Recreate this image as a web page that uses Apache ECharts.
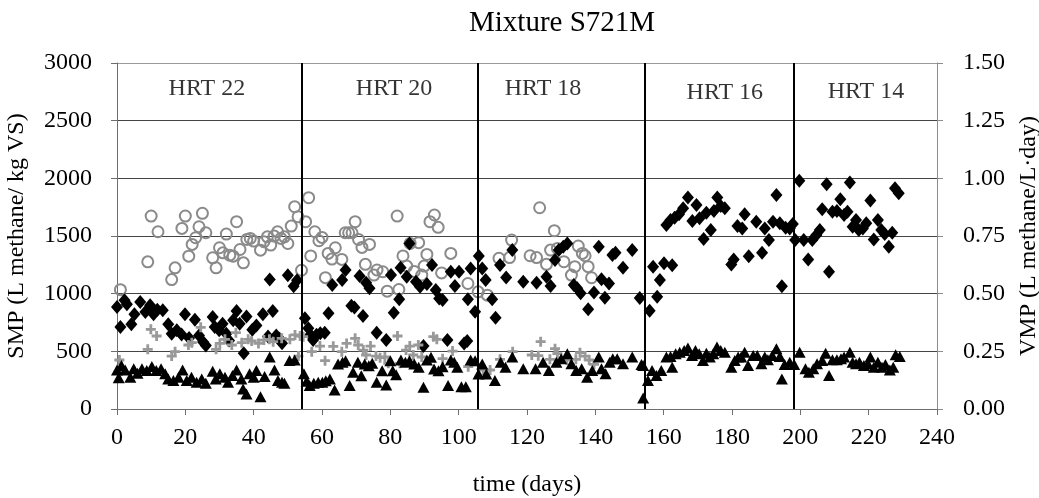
<!DOCTYPE html>
<html>
<head>
<meta charset="utf-8">
<script src="https://cdn.jsdelivr.net/npm/echarts@6/dist/echarts.min.js"></script>
<style>
html,body{margin:0;padding:0;background:#fff;}
#chart{width:1039px;height:498px;}
</style>
</head>
<body>
<div id="chart"></div>
<script>
// ---- data (left axis units: L methane / kg VS) ----
const xTicks = [0, 20, 40, 60, 80, 100, 120, 140, 160, 180, 200, 220, 240];
const leftTicks = [0, 500, 1000, 1500, 2000, 2500, 3000];
const rightTicks = [0.00, 0.25, 0.50, 0.75, 1.00, 1.25, 1.50];

const hrtBoundaries = [54, 105.5, 154.5, 198];
const hrtNames = ['HRT 22', 'HRT 20', 'HRT 18', 'HRT 16', 'HRT 14'];
const hrtLabelX = [26.3, 81.1, 124.7, 177.9, 219.2];
const hrtLabelY = [2774, 2774, 2774, 2740, 2748];

const diamondDays = [0,1.0,2.2,2.9,4.2,5.1,6.8,8.3,9.7,10.7,11.8,13.4,15.0,16.0,17.5,18.9,19.9,21.1,22.8,24.0,25.2,26.0,28.0,28.6,29.9,30.9,32.0,32.8,34.0,35.0,35.9,37.1,37.9,39.6,40.8,42.7,44.2,45.6,46.6,47.6,48.3,44.7,50.0,51.7,52.7,
55.0,56.0,56.6,57.4,58.4,59.5,60.8,61.9,63.0,65.9,66.9,68.6,69.5,71.0,72.0,72.9,73.9,76.0,78.8,80.2,81.0,82.6,83.0,84.8,85.6,87.5,88.7,89.7,90.7,92.2,93.3,94.3,95.3,96.7,97.7,98.9,100.1,101.6,102.5,102.7,103.5,104.8,
105.9,106.9,107.9,109.8,110.8,112.1,113.9,115.7,118.9,122.8,125.7,126.9,128.2,129.3,130.6,131.8,133.7,134.7,135.7,137.9,139.6,141,141.8,142.8,144,145,145.9,148.1,150.8,153,155.9,156.9,158.1,158.9,160.1,
160.8,162,162.5,163.2,164.5,165.7,167.1,168.4,169.6,170.5,171.7,172.5,173.8,174.7,175.7,176.7,177.9,179.8,180.5,181.6,183,183.7,184.9,187.1,188.8,189.6,190.8,192,193,194,194.6,195.7,196.9,
197.8,198.5,199.7,201,202.3,203.5,204.7,205.7,206.4,207.7,208.4,209.4,210.7,211.7,212.8,213.8,214.5,215.3,216.3,217.1,218.3,219.3,220.5,221.5,222.7,223.7,224.7,225.9,226.9,227.7,228.8];
const diamondVals = [885,711,943,908,734,821,928,841,899,821,861,856,734,653,682,647,821,615,774,638,580,551,798,711,682,740,653,595,769,850,740,484,803,687,725,821,629,850,638,609,571,1122,1160,1064,1117,
786,701,643,598,643,656,662,830,1075,1118,1205,896,879,1153,806,1095,1046,662,598,1162,835,951,1225,1147,1436,1104,1060,546,1083,1248,1031,959,945,598,1190,1066,1190,569,590,951,1219,843,
1326,1219,1118,951,792,1248,1141,1378,1104,1095,1147,1066,1292,1378,1407,1436,1075,1046,1003,864,1011,1407,1124,964,1089,1335,1355,1225,1378,962,852,1234,974,1118,1263,
1595,1639,1247,1659,1688,1740,1833,1630,1769,1653,1473,1702,1552,1717,1833,1760,1740,1253,1296,1586,1566,1688,1325,1624,1354,1566,1465,1624,1856,1610,1064,1572,1566,
1604,1465,1978,1465,1296,1465,1508,1552,1731,1949,1189,1711,1717,1818,1682,1711,1963,1580,1639,1552,1566,1610,1807,1470,1639,1552,1517,1407,1528,1914,1871];

const circleDays = [1,9,10,12,16,17,19,20,21,22,23,24,25,26,28,29,30,31,32,33,34,35,36,37,38,39,40,42,43,44,45,46,47,48,49,50,51,52,53,54,
55.2,56.1,56.7,57.9,59.1,60.0,61,61.8,62.9,63.9,65.8,66.8,67.8,68.8,69.7,70.7,71.7,72.7,73.9,75.2,76.1,77.8,79.1,82.0,82.5,83.7,84.8,85.8,87,88.3,89.2,89.9,90.7,91.6,92.9,94.0,95.0,97.7,102.7,105.7,108.4,
111.8,114.9,115.5,120.9,122.8,123.7,125.7,126.9,128,128.9,130.8,133,134,135,136.2,137,137.9,138.9];
const circleVals = [1035,1276,1673,1537,1122,1224,1566,1673,1325,1427,1485,1580,1697,1528,1311,1224,1398,1354,1517,1334,1325,1624,1383,1267,1470,1479,1456,1377,1450,1493,1421,1499,1537,1479,1493,1435,1586,1754,1667,1203,
1624,1832,1327,1537,1459,1488,1139,1349,1300,1398,1297,1528,1528,1528,1624,1470,1401,1254,1427,1161,1205,1190,1022,1673,1036,1327,1239,1436,1193,1442,1161,1239,1340,1624,1682,1575,1180,1349,1088,1016,987,
1307,1313,1465,1329,1313,1745,1254,1378,1546,1392,1277,1161,1234,1413,1349,1329,1234,1138];

const triangleDays = [0,0.5,1.3,2.4,3.9,4.9,6.0,7.3,8.7,10.2,11.5,12.9,14.1,15.0,16.5,18.0,19.2,20.4,21.8,23.3,24.8,26.0,28.0,28.9,30.1,31.6,32.5,33.8,35.0,36.4,36.9,37.9,38.8,40.0,40.8,42.0,43.2,44.7,46.1,47.1,48.3,49.0,50.5,52,
54.7,55.5,56.4,57.6,58.9,60.1,61.1,62.3,63.7,64.7,66.0,66.9,68.1,69.1,70.5,71.5,72.5,73.7,74.7,76.0,77.6,78.8,80.0,80.7,81.7,83.1,84.4,85.6,87.0,88.3,89.7,90.7,91.9,92.8,94.1,95.3,96.9,97.7,98.7,99.6,100.8,102.1,103.5,104.8,105.8,106.9,108.1,
110.6,112.3,113.7,115.7,118.9,122.5,124.7,126.4,128.6,130,131.8,133,134.4,136,137.6,139.1,141,141.8,143,144.2,145.1,146.4,148.1,150.8,153.5,
154,154,155.4,156.6,157.9,159.3,160.8,162,162.5,163.5,164.7,166,167.1,168.3,169.3,170.4,171.5,172.5,173.5,174.5,175.6,176.7,177.9,179.8,180.8,181.8,182.7,183.7,184.7,186.2,187.4,188.6,189.6,190.5,191.8,193,194,194.6,195.4,196.9,198.2,199.8,
201.5,202.5,203.8,204.9,206.4,207.4,208.4,209.4,210.7,211.9,212.8,214.5,215.3,216.3,217.3,218.6,219.8,220.5,221.5,222.7,223.9,224.9,226.2,227.2,227.9,229.1];
const triangleVals = [339,270,377,339,276,348,310,348,334,368,334,348,305,261,247,276,339,247,276,232,261,223,328,261,305,276,232,290,339,261,174,131,305,276,334,107,281,450,339,247,232,223,421,425,
305,240,203,223,232,232,246,260,165,390,405,419,203,318,405,289,390,376,396,231,332,208,419,332,298,425,405,419,390,361,188,425,448,347,332,367,203,425,405,361,194,194,425,419,303,390,303,
247,406,363,450,348,348,406,334,406,435,479,392,334,348,276,334,450,348,305,406,435,435,392,450,386,
377,96,247,334,290,334,450,455,363,479,493,508,528,464,508,479,421,484,450,479,537,508,493,363,421,450,450,493,377,464,464,392,450,426,464,522,455,261,386,406,386,493,
348,319,348,392,421,484,290,426,426,435,450,493,406,392,406,377,392,450,363,406,363,386,339,363,470,455];

const plusDays = [0.7,9.0,9.9,11.6,16.0,17.0,20.9,21.9,24.5,29,30.1,31.6,33.6,34.8,36.5,38.4,39.4,41.4,43.0,44.6,45.7,48.2,50.6,52.1,53.1,53.6,
54.5,57,59.4,60.9,63.3,65.8,67.2,69.7,70.6,72.1,72.9,74.2,75.8,77,78.4,79.4,82.1,82.8,84.6,85.7,86.7,88.2,89.2,92.6,93.6,95.3,98.2,102.8,
107.2,109.2,112.1,115.8,121.4,123.3,124,126.7,128.2,128.9,131.6,134.3,135.5,137,138.2,139.6];
const plusVals = [425,517,691,633,459,497,555,575,708,517,569,604,555,662,575,604,590,569,598,604,584,613,604,642,459,633,
627,497,546,419,543,497,569,613,555,511,468,546,459,445,451,396,633,396,511,546,468,555,451,627,604,436,502,367,
338,338,431,497,468,462,584,431,523,480,425,431,488,459,425,387];

// ---- chart ----
const zip = (xs, ys) => xs.map((x, i) => [x, ys[i]]);
const FONT = '"Liberation Serif", "Times New Roman", serif';
const FS = 24;
const plusPath = 'path://M3.6,0 L6.4,0 L6.4,3.6 L10,3.6 L10,6.4 L6.4,6.4 L6.4,10 L3.6,10 L3.6,6.4 L0,6.4 L0,3.6 L3.6,3.6 Z';

const chart = echarts.init(document.getElementById('chart'), null, {renderer: 'canvas'});
chart.setOption({
  animation: false,
  backgroundColor: '#fff',
  textStyle: {fontFamily: FONT},
  title: {
    text: 'Mixture S721M', left: 464, top: 4,
    textStyle: {fontFamily: FONT, fontSize: 29, fontWeight: 'normal', color: '#000'}
  },
  grid: {left: 117, right: 102, top: 63, bottom: 89, containLabel: false, outerBoundsMode: 'none'},
  xAxis: {
    type: 'value', min: xTicks[0], max: xTicks[xTicks.length - 1], interval: 20,
    name: 'time (days)', nameLocation: 'middle', nameGap: 64,
    nameTextStyle: {fontFamily: FONT, fontSize: FS, color: '#000'},
    axisLine: {lineStyle: {color: '#6e6e6e', width: 1}},
    axisTick: {show: true, inside: false, length: 6, lineStyle: {color: '#6e6e6e'}},
    axisLabel: {fontFamily: FONT, fontSize: FS, color: '#000', margin: 17},
    splitLine: {show: false}
  },
  yAxis: [{
    type: 'value', min: leftTicks[0], max: leftTicks[leftTicks.length - 1], interval: 500,
    name: 'SMP (L methane/ kg VS)', nameLocation: 'middle', nameGap: 88, nameRotate: 90,
    nameTextStyle: {fontFamily: FONT, fontSize: FS, color: '#000'},
    axisLine: {show: true, lineStyle: {color: '#6e6e6e', width: 1}},
    axisTick: {show: true, inside: false, length: 6, lineStyle: {color: '#6e6e6e'}},
    axisLabel: {fontFamily: FONT, fontSize: FS, color: '#000', margin: 25,
      formatter: v => String(v)},
    splitLine: {show: true, lineStyle: {color: ['#444','#444','#444','#444','#444','#444','#999'], width: 1}}
  }, {
    type: 'value', min: rightTicks[0], max: rightTicks[rightTicks.length - 1], interval: 0.25,
    position: 'right',
    name: 'VMP (L methane/L·day)', nameLocation: 'middle', nameGap: 80, nameRotate: 90,
    nameTextStyle: {fontFamily: FONT, fontSize: FS, color: '#000'},
    axisLine: {show: true, lineStyle: {color: '#8c8c8c', width: 1}},
    axisTick: {show: true, inside: false, length: 6, lineStyle: {color: '#8c8c8c'}},
    axisLabel: {fontFamily: FONT, fontSize: FS, color: '#000', margin: 26,
      formatter: v => v.toFixed(2)},
    splitLine: {show: false}
  }],
  series: [
    {
      name: 'boundaries', type: 'scatter', data: [], silent: true,
      markLine: {
        silent: true, symbol: ['none', 'none'], label: {show: false},
        lineStyle: {color: '#000', width: 2, type: 'solid', opacity: 1},
        data: hrtBoundaries.map(d => ({xAxis: d}))
      }
    },
    {
      name: 'SMP circles', type: 'scatter', data: zip(circleDays, circleVals),
      symbol: 'circle', symbolSize: 11,
      itemStyle: {color: 'rgba(0,0,0,0)', borderColor: '#8a8a8a', borderWidth: 2, opacity: 1}
    },
    {
      name: 'diamonds', type: 'scatter', data: zip(diamondDays, diamondVals),
      symbol: 'diamond', symbolSize: [12, 14],
      itemStyle: {color: '#000', opacity: 1}
    },
    {
      name: 'plus', type: 'scatter', data: zip(plusDays, plusVals),
      symbol: plusPath, symbolSize: 10,
      itemStyle: {color: '#999', opacity: 1}
    },
    {
      name: 'triangles', type: 'scatter', data: zip(triangleDays, triangleVals),
      symbol: 'triangle', symbolSize: [12, 11],
      itemStyle: {color: '#000', opacity: 1}
    },
    {
      name: 'HRT labels', type: 'scatter', silent: true,
      data: hrtNames.map((n, i) => ({name: n, value: [hrtLabelX[i], hrtLabelY[i]]})),
      symbolSize: 0,
      label: {show: true, position: 'inside', formatter: p => p.name,
        fontFamily: FONT, fontSize: FS, color: '#000'}
    }
  ]
});
</script>
</body>
</html>
